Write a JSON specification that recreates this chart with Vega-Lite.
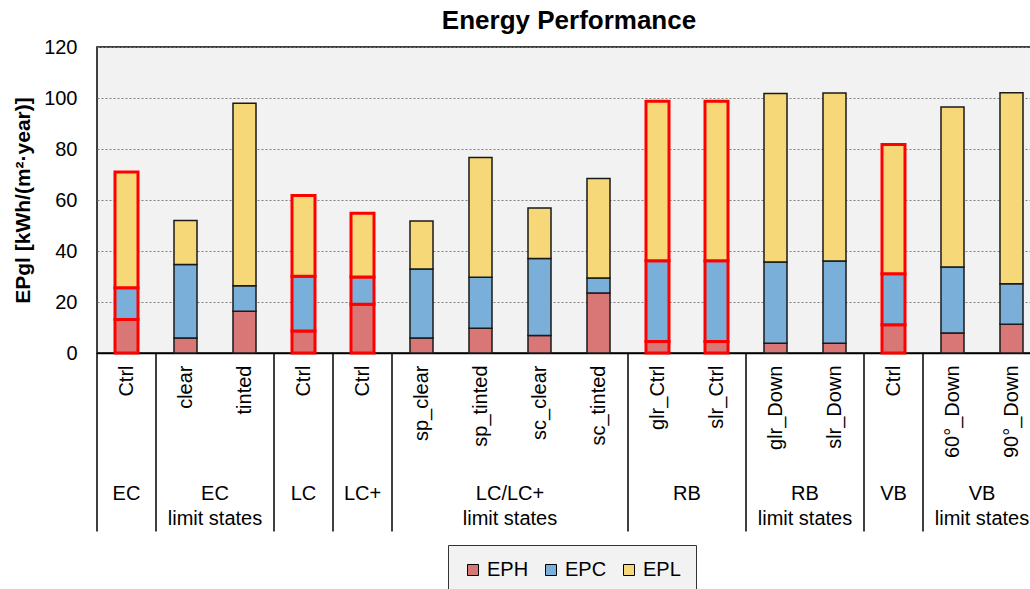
{
  "$schema": "https://vega.github.io/schema/vega-lite/v6.json",
  "width": 944,
  "height": 306,
  "padding": {"left": 12, "top": 8, "right": 0, "bottom": 0},
  "background": "white",
  "title": {"text": "Energy Performance", "font": "Liberation Sans", "fontSize": 26, "fontWeight": "bold", "color": "black", "offset": 3, "anchor": "middle"},
  "config": {
    "view": {"fill": "#f2f2f2", "stroke": "black", "strokeWidth": 1.5},
    "font": "Liberation Sans"
  },
  "datasets": {
    "bars": [
      {"id": "01", "type": "EPH", "value": 13.1, "ctrl": true},
      {"id": "01", "type": "EPC", "value": 12.5, "ctrl": true},
      {"id": "01", "type": "EPL", "value": 45.4, "ctrl": true},
      {"id": "02", "type": "EPH", "value": 5.9, "ctrl": false},
      {"id": "02", "type": "EPC", "value": 28.8, "ctrl": false},
      {"id": "02", "type": "EPL", "value": 17.3, "ctrl": false},
      {"id": "03", "type": "EPH", "value": 16.4, "ctrl": false},
      {"id": "03", "type": "EPC", "value": 10.0, "ctrl": false},
      {"id": "03", "type": "EPL", "value": 71.5, "ctrl": false},
      {"id": "04", "type": "EPH", "value": 8.6, "ctrl": true},
      {"id": "04", "type": "EPC", "value": 21.5, "ctrl": true},
      {"id": "04", "type": "EPL", "value": 31.7, "ctrl": true},
      {"id": "05", "type": "EPH", "value": 19.1, "ctrl": true},
      {"id": "05", "type": "EPC", "value": 10.7, "ctrl": true},
      {"id": "05", "type": "EPL", "value": 25.0, "ctrl": true},
      {"id": "06", "type": "EPH", "value": 5.9, "ctrl": false},
      {"id": "06", "type": "EPC", "value": 27.0, "ctrl": false},
      {"id": "06", "type": "EPL", "value": 18.9, "ctrl": false},
      {"id": "07", "type": "EPH", "value": 9.7, "ctrl": false},
      {"id": "07", "type": "EPC", "value": 20.0, "ctrl": false},
      {"id": "07", "type": "EPL", "value": 47.0, "ctrl": false},
      {"id": "08", "type": "EPH", "value": 6.9, "ctrl": false},
      {"id": "08", "type": "EPC", "value": 30.2, "ctrl": false},
      {"id": "08", "type": "EPL", "value": 19.8, "ctrl": false},
      {"id": "09", "type": "EPH", "value": 23.5, "ctrl": false},
      {"id": "09", "type": "EPC", "value": 5.9, "ctrl": false},
      {"id": "09", "type": "EPL", "value": 39.0, "ctrl": false},
      {"id": "10", "type": "EPH", "value": 4.5, "ctrl": true},
      {"id": "10", "type": "EPC", "value": 31.7, "ctrl": true},
      {"id": "10", "type": "EPL", "value": 62.5, "ctrl": true},
      {"id": "11", "type": "EPH", "value": 4.5, "ctrl": true},
      {"id": "11", "type": "EPC", "value": 31.7, "ctrl": true},
      {"id": "11", "type": "EPL", "value": 62.5, "ctrl": true},
      {"id": "12", "type": "EPH", "value": 3.8, "ctrl": false},
      {"id": "12", "type": "EPC", "value": 31.9, "ctrl": false},
      {"id": "12", "type": "EPL", "value": 66.1, "ctrl": false},
      {"id": "13", "type": "EPH", "value": 3.8, "ctrl": false},
      {"id": "13", "type": "EPC", "value": 32.3, "ctrl": false},
      {"id": "13", "type": "EPL", "value": 65.9, "ctrl": false},
      {"id": "14", "type": "EPH", "value": 11.1, "ctrl": true},
      {"id": "14", "type": "EPC", "value": 20.0, "ctrl": true},
      {"id": "14", "type": "EPL", "value": 50.7, "ctrl": true},
      {"id": "15", "type": "EPH", "value": 7.8, "ctrl": false},
      {"id": "15", "type": "EPC", "value": 25.9, "ctrl": false},
      {"id": "15", "type": "EPL", "value": 62.8, "ctrl": false},
      {"id": "16", "type": "EPH", "value": 11.3, "ctrl": false},
      {"id": "16", "type": "EPC", "value": 15.9, "ctrl": false},
      {"id": "16", "type": "EPL", "value": 74.9, "ctrl": false}
    ],
    "groups": [
      {"first": "01", "anchor": "01", "even": false, "text": "EC"},
      {"first": "02", "anchor": "03", "even": true, "text": "EC\nlimit states"},
      {"first": "04", "anchor": "04", "even": false, "text": "LC"},
      {"first": "05", "anchor": "05", "even": false, "text": "LC+"},
      {"first": "06", "anchor": "08", "even": true, "text": "LC/LC+\nlimit states"},
      {"first": "10", "anchor": "11", "even": true, "text": "RB"},
      {"first": "12", "anchor": "13", "even": true, "text": "RB\nlimit states"},
      {"first": "14", "anchor": "14", "even": false, "text": "VB"},
      {"first": "15", "anchor": "16", "even": true, "text": "VB\nlimit states"}
    ]
  },
  "layer": [
    {
      "data": {"name": "bars"},
      "transform": [{"calculate": "indexof(['EPH','EPC','EPL'], datum.type)", "as": "ord"}],
      "mark": {"type": "bar", "width": {"band": 0.39}},
      "encoding": {
        "x": {
          "field": "id", "type": "nominal", "title": null,
          "scale": {"domain": ["01","02","03","04","05","06","07","08","09","10","11","12","13","14","15","16"], "paddingInner": 0, "paddingOuter": 0},
          "axis": {
            "labelAngle": 270, "labelAlign": "right", "labelBaseline": "middle",
            "labelFontSize": 20, "labelColor": "black", "labelPadding": 12,
            "ticks": false, "domainColor": "black", "domainWidth": 1.5, "grid": false,
            "labelExpr": "['Ctrl','clear','tinted','Ctrl','Ctrl','sp_clear','sp_tinted','sc_clear','sc_tinted','glr_Ctrl','slr_Ctrl','glr_Down','slr_Down','Ctrl','60°_Down','90°_Down'][toNumber(datum.value)-1]"
          }
        },
        "y": {
          "field": "value", "type": "quantitative", "stack": "zero",
          "scale": {"domain": [0, 120], "nice": false},
          "axis": {
            "title": "EPgl [kWh/(m²·year)]", "titleFontSize": 21, "titleFontWeight": "bold", "titleColor": "black", "titlePadding": 10,
            "values": [0, 20, 40, 60, 80, 100, 120],
            "labelFontSize": 20, "labelColor": "black", "labelPadding": 20,
            "ticks": false, "domain": false,
            "grid": true, "gridColor": "#7f7f7f", "gridDash": [2, 2], "gridWidth": 1
          }
        },
        "color": {
          "field": "type", "type": "nominal",
          "scale": {"domain": ["EPH", "EPC", "EPL"], "range": ["#d97777", "#7aafd9", "#f7d878"]},
          "legend": {
            "orient": "none", "legendX": 351, "legendY": 498, "direction": "horizontal", "title": null,
            "fillColor": "#f2f2f2", "strokeColor": "#333333", "padding": 15,
            "symbolType": "square", "symbolSize": 121, "symbolStrokeColor": "black", "symbolStrokeWidth": 1, "symbolOpacity": 1,
            "labelFontSize": 20, "labelColor": "black", "columnPadding": 12, "labelOffset": 4
          }
        },
        "order": {"field": "ord", "type": "quantitative"},
        "stroke": {"condition": {"test": "datum.ctrl", "value": "#ff0000"}, "value": "#1a1a1a"},
        "strokeWidth": {"condition": {"test": "datum.ctrl", "value": 3}, "value": 1.5},
        "opacity": {"value": 1}
      }
    },
    {
      "data": {"name": "groups"},
      "mark": {"type": "rule", "color": "black", "strokeWidth": 1.5},
      "encoding": {
        "x": {"field": "first", "type": "nominal", "bandPosition": 0, "title": null},
        "y": {"datum": 0},
        "y2": {"datum": -70}
      }
    },
    {
      "data": {"name": "groups"},
      "transform": [{"filter": "!datum.even"}],
      "mark": {"type": "text", "fontSize": 20, "baseline": "top", "align": "center", "lineBreak": "\n", "lineHeight": 24.5, "color": "black"},
      "encoding": {
        "x": {"field": "anchor", "type": "nominal", "bandPosition": 0.5, "title": null},
        "y": {"datum": -51.4},
        "text": {"field": "text"}
      }
    },
    {
      "data": {"name": "groups"},
      "transform": [{"filter": "datum.even"}],
      "mark": {"type": "text", "fontSize": 20, "baseline": "top", "align": "center", "lineBreak": "\n", "lineHeight": 24.5, "color": "black"},
      "encoding": {
        "x": {"field": "anchor", "type": "nominal", "bandPosition": 0, "title": null},
        "y": {"datum": -51.4},
        "text": {"field": "text"}
      }
    }
  ]
}
